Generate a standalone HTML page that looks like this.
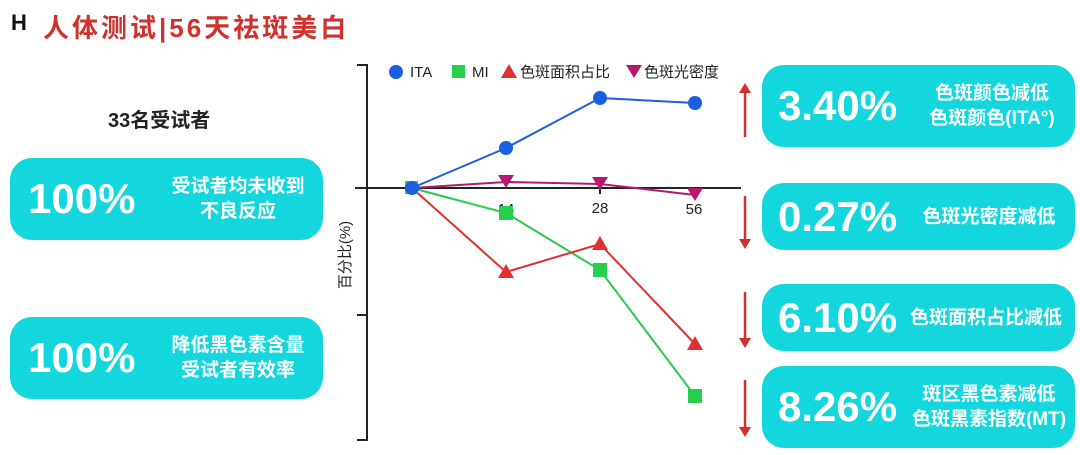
<!DOCTYPE html>
<html><head><meta charset="utf-8">
<style>
*{margin:0;padding:0;box-sizing:border-box}
body{width:1080px;height:455px;background:#fff;position:relative;overflow:hidden;font-family:"Liberation Sans","Noto Sans CJK SC",sans-serif}
.box{position:absolute;background:#13d7dd;border-radius:22px;color:#fff}
.big{position:absolute;font-size:42px;font-weight:bold;top:50%;transform:translateY(-50%);letter-spacing:0px}
.txt{position:absolute;font-size:19px;font-weight:bold;line-height:25px;text-align:center;top:50%;transform:translateY(-50%)}
</style></head><body>
<div style="position:absolute;left:11px;top:10px;font-size:22px;font-weight:bold;color:#111">H</div>
<div style="position:absolute;left:43px;top:8px;font-size:26px;font-weight:bold;color:#d0312d;letter-spacing:3px">人体测试|56天祛斑美白</div>
<div style="position:absolute;left:108px;top:104px;font-size:20px;font-weight:bold;color:#222">33名受试者</div>

<div class="box" style="left:10px;top:158px;width:313px;height:82px">
<div class="big" style="left:18px">100%</div>
<div class="txt" style="left:148px;width:160px">受试者均未收到<br>不良反应</div></div>
<div class="box" style="left:10px;top:317px;width:313px;height:82px">
<div class="big" style="left:18px">100%</div>
<div class="txt" style="left:148px;width:160px">降低黑色素含量<br>受试者有效率</div></div>

<div class="box" style="left:762px;top:65px;width:313px;height:82px">
<div class="big" style="left:16px">3.40%</div>
<div class="txt" style="left:150px;width:160px">色斑颜色减低<br>色斑颜色(ITA°)</div></div>
<div class="box" style="left:762px;top:183px;width:313px;height:67px">
<div class="big" style="left:16px">0.27%</div>
<div class="txt" style="left:142px;width:170px">色斑光密度减低</div></div>
<div class="box" style="left:762px;top:284px;width:313px;height:67px">
<div class="big" style="left:16px">6.10%</div>
<div class="txt" style="left:134px;width:180px">色斑面积占比减低</div></div>
<div class="box" style="left:762px;top:366px;width:313px;height:82px">
<div class="big" style="left:16px">8.26%</div>
<div class="txt" style="left:142px;width:170px">斑区黑色素减低<br>色斑黑素指数(MT)</div></div>

<svg width="1080" height="455" style="position:absolute;left:0;top:0">
<g stroke="#222" stroke-width="2" fill="none">
<polyline points="357,65 367,65 367,440 357,440"/>
<line x1="357" y1="315" x2="367" y2="315"/>
<line x1="355" y1="188" x2="741" y2="188"/>
<line x1="600" y1="188" x2="600" y2="194"/>
</g>
<g font-size="15" fill="#222" text-anchor="middle">
<text x="506" y="214">14</text><text x="600" y="213">28</text><text x="694" y="214">56</text>
</g>
<text transform="translate(350,255) rotate(-90)" font-size="15" fill="#222" text-anchor="middle">百分比(%)</text>
<polyline points="412,188 506,148 600,98 695,103" stroke="#1a5fe0" stroke-width="2" fill="none"/>
<polyline points="412,188 506,213 600,270 695,396" stroke="#2cc84a" stroke-width="2" fill="none"/>
<polyline points="412,188 506,272 600,244 695,344" stroke="#e03030" stroke-width="2" fill="none"/>
<polyline points="412,188 506,182 600,184 695,195" stroke="#b8176e" stroke-width="2" fill="none"/>
<g fill="#27cf4f"><rect x="405" y="181" width="13" height="13"/><rect x="499" y="206" width="14" height="14"/><rect x="593" y="263" width="14" height="14"/><rect x="688" y="389" width="14" height="14"/></g>
<g fill="#1a5fe0"><circle cx="412" cy="188" r="7"/><circle cx="506" cy="148" r="7"/><circle cx="600" cy="98" r="7"/><circle cx="695" cy="103" r="7"/></g>
<g fill="#e03030"><polygon points="506,264 498,278 514,278"/><polygon points="600,236 592,250 608,250"/><polygon points="695,336 687,350 703,350"/></g>
<g fill="#b8176e"><polygon points="498,175 514,175 506,188"/><polygon points="592,177 608,177 600,190"/><polygon points="687,188 703,188 695,201"/></g>
<circle cx="396" cy="72" r="7" fill="#1a5fe0"/><text x="410" y="77" font-size="15" fill="#222">ITA</text>
<rect x="452" y="65" width="13" height="13" fill="#27cf4f"/><text x="472" y="77" font-size="15" fill="#222">MI</text>
<polygon points="509,64 501,78 517,78" fill="#e03030"/><text x="520" y="77" font-size="15" fill="#222">色斑面积占比</text>
<polygon points="626,65 642,65 634,78" fill="#b8176e"/><text x="644" y="77" font-size="15" fill="#222">色斑光密度</text>
<g stroke="#d0312d" stroke-width="2.5" fill="#d0312d">
<line x1="745" y1="90" x2="745" y2="137"/><polygon points="739,93 751,93 745,83" stroke="none"/>
<line x1="745" y1="196" x2="745" y2="242"/><polygon points="739,239 751,239 745,249" stroke="none"/>
<line x1="745" y1="292" x2="745" y2="341"/><polygon points="739,338 751,338 745,348" stroke="none"/>
<line x1="745" y1="380" x2="745" y2="430"/><polygon points="739,427 751,427 745,437" stroke="none"/>
</g>
</svg>
</body></html>
